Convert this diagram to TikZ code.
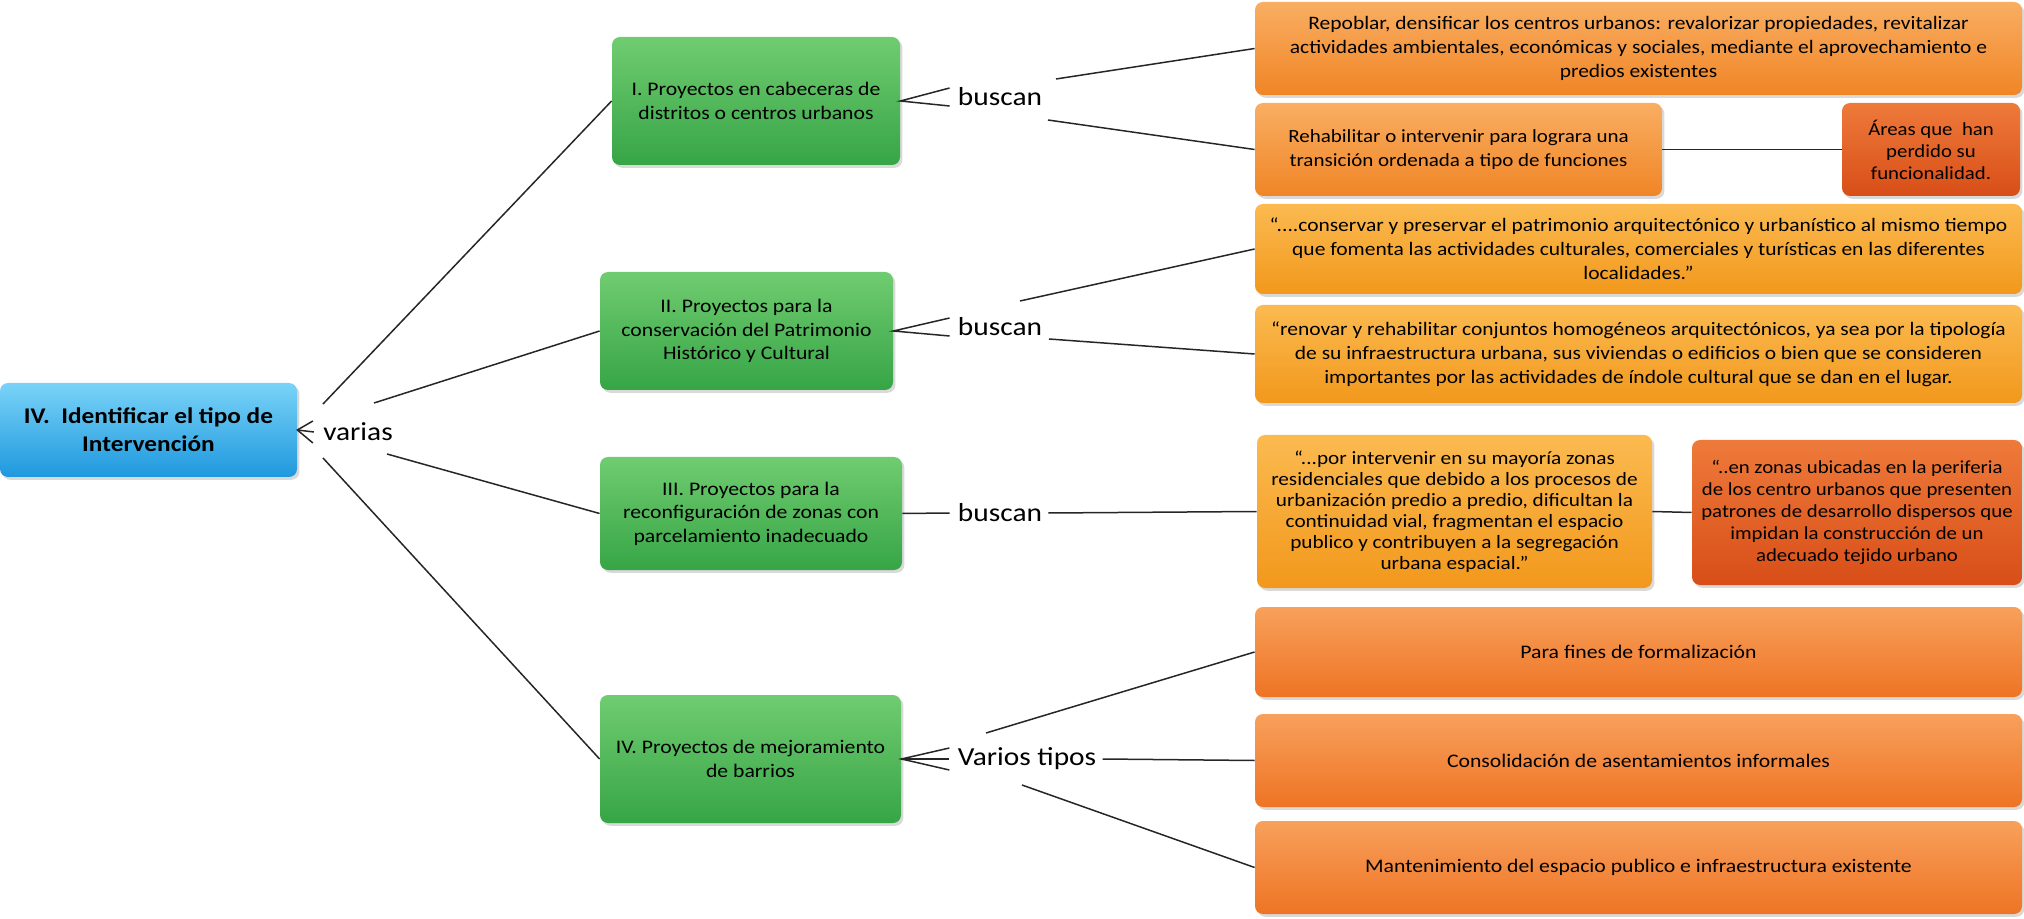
\documentclass[tikz,border=0pt]{standalone}
\usepackage{fontspec}
\setmainfont{Carlito}[FakeStretch=1.13]
\usetikzlibrary{calc,shadows}
\definecolor{bTop}{HTML}{7AD3F7}
\definecolor{bBot}{HTML}{1E98DE}
\definecolor{gTop}{HTML}{70CC70}
\definecolor{gBot}{HTML}{36A546}
\definecolor{oTop}{HTML}{F9AE62}
\definecolor{oBot}{HTML}{F08526}
\definecolor{yTop}{HTML}{FBBA50}
\definecolor{yBot}{HTML}{F2981C}
\definecolor{pTop}{HTML}{F8A05C}
\definecolor{pBot}{HTML}{EE7424}
\definecolor{rTop}{HTML}{EE7A3A}
\definecolor{rBot}{HTML}{D84E18}
\begin{document}
\begin{tikzpicture}[x=0.5pt,y=-0.5pt,
  conn/.style={draw=black!85, line width=0.75pt},
  base/.style={rounded corners=4pt, inner sep=0pt, align=center,
    drop shadow={opacity=0.3, shadow xshift=1.2pt, shadow yshift=-1.4pt}},
  bluebox/.style={base, top color=bTop, bottom color=bBot,
    font=\bfseries\fontsize{11.2}{14}\selectfont},
  greenbox/.style={base, top color=gTop, bottom color=gBot,
    font=\fontsize{9.6}{11.7}\selectfont},
  orabox/.style={base, top color=oTop, bottom color=oBot,
    font=\fontsize{9.5}{12.2}\selectfont},
  yelbox/.style={base, top color=yTop, bottom color=yBot,
    font=\fontsize{9.5}{12}\selectfont},
  pinkbox/.style={base, top color=pTop, bottom color=pBot,
    font=\fontsize{9.6}{11}\selectfont},
  redbox/.style={base, top color=rTop, bottom color=rBot,
    font=\fontsize{9.2}{11}\selectfont},
  lbl/.style={font=\fontsize{13}{15}\selectfont, inner sep=3pt}
]
\useasboundingbox (0,0) rectangle (2024,919);

% main node
\node[bluebox, minimum width=148.5pt, minimum height=47pt] (ib) at (148.5,430)
  {IV.\ \ Identificar el tipo de\\Intervención};
\node[lbl] (va) at (358,432) {varias};

% green nodes
\node[greenbox, minimum width=144pt, minimum height=64pt] (g1) at (756,101)
  {I. Proyectos en cabeceras de\\distritos o centros urbanos};
\node[greenbox, minimum width=146.5pt, minimum height=59pt] (g2) at (746.5,331)
  {II. Proyectos para la\\conservación del Patrimonio\\Histórico y Cultural};
\node[greenbox, minimum width=151pt, minimum height=56.5pt] (g3) at (751,513.5)
  {III. Proyectos para la\\reconfiguración de zonas con\\parcelamiento inadecuado};
\node[greenbox, minimum width=150.5pt, minimum height=64pt] (g4) at (750.5,759)
  {IV. Proyectos de mejoramiento\\de barrios};

% labels
\node[lbl] (b1) at (1000,97) {buscan};
\node[lbl] (b2) at (1000,327) {buscan};
\node[lbl] (b3) at (1000,513) {buscan};
\node[lbl] (vt) at (1027,759) {Varios tipos};

% orange nodes
\node[orabox, minimum width=383.5pt, minimum height=46.5pt] (o1) at (1638.5,48.5)
  {Repoblar, densificar los centros urbanos: revalorizar propiedades, revitalizar\\actividades ambientales, económicas y sociales, mediante el aprovechamiento e\\predios existentes};
\node[orabox, minimum width=203.5pt, minimum height=46.5pt, font=\fontsize{9.3}{12.2}\selectfont] (o2) at (1458.5,149.5)
  {Rehabilitar o intervenir para lograra una\\transición ordenada a tipo de funciones};
\node[redbox, minimum width=89pt, minimum height=46.5pt] (r1) at (1931,149.5)
  {Áreas que\ \ han\\perdido su\\funcionalidad.};
\node[yelbox, minimum width=383.5pt, minimum height=45pt] (o3) at (1638.5,249)
  {“....conservar y preservar el patrimonio arquitectónico y urbanístico al mismo tiempo\\que fomenta las actividades culturales, comerciales y turísticas en las diferentes\\localidades.”};
\node[yelbox, minimum width=383.5pt, minimum height=49pt] (o4) at (1638.5,354)
  {“renovar y rehabilitar conjuntos homogéneos arquitectónicos, ya sea por la tipología\\de su infraestructura urbana, sus viviendas o edificios o bien que se consideren\\importantes por las actividades de índole cultural que se dan en el lugar.};
\node[yelbox, minimum width=197.5pt, minimum height=76.5pt, font=\fontsize{9.4}{10.5}\selectfont] (o5) at (1454.5,511.5)
  {“...por intervenir en su mayoría zonas\\residenciales que debido a los procesos de\\urbanización predio a predio, dificultan la\\continuidad vial, fragmentan el espacio\\publico y contribuyen a la segregación\\urbana espacial.”};
\node[redbox, minimum width=165pt, minimum height=72.5pt] (r2) at (1857,512.5)
  {“..en zonas ubicadas en la periferia\\de los centro urbanos que presenten\\patrones de desarrollo dispersos que\\impidan la construcción de un\\adecuado tejido urbano};
\node[pinkbox, minimum width=383.5pt, minimum height=45pt] (o6) at (1638.5,652)
  {Para fines de formalización};
\node[pinkbox, minimum width=383.5pt, minimum height=46.5pt] (o7) at (1638.5,760.5)
  {Consolidación de asentamientos informales};
\node[pinkbox, minimum width=383.5pt, minimum height=46.5pt] (o8) at (1638.5,867.5)
  {Mantenimiento del espacio publico e infraestructura existente};

% fork main -> varias
\draw[conn] ($(va.west)+(-4,-11)$) -- (ib.east) -- ($(va.west)+(-4,11)$);
\draw[conn] (ib.east) -- ($(va.west)+(-3,0)$);
% varias -> green
\draw[conn] ($(va.center)+(-35,-28)$) -- (g1.west);
\draw[conn] ($(va.center)+(16,-29)$) -- (g2.west);
\draw[conn] ($(va.center)+(29,22)$) -- (g3.west);
\draw[conn] ($(va.center)+(-35,26)$) -- (g4.west);

% green -> labels
\draw[conn] ($(b1.west)+(-2,-9)$) -- (g1.east) -- ($(b1.west)+(-2,9)$);
\draw[conn] ($(b2.west)+(-2,-9)$) -- (g2.east) -- ($(b2.west)+(-2,9)$);
\draw[conn] (g3.east) -- ($(b3.west)+(-2,0)$);
\draw[conn] ($(vt.west)+(-2,-11)$) -- (g4.east) -- ($(vt.west)+(-2,11)$);
\draw[conn] (g4.east) -- ($(vt.west)+(-2,0)$);

% labels -> orange
\draw[conn] ($(b1.center)+(56,-18)$) -- (o1.west);
\draw[conn] ($(b1.center)+(48,23)$) -- (o2.west);
\draw[conn] ($(b2.center)+(20,-26)$) -- (o3.west);
\draw[conn] ($(b2.center)+(49,12)$) -- (o4.west);
\draw[conn] (b3.east) -- (o5.west);
\draw[conn] ($(vt.center)+(-41,-26)$) -- (o6.west);
\draw[conn] (vt.east) -- (o7.west);
\draw[conn] ($(vt.center)+(-5,26)$) -- (o8.west);

% orange -> red
\draw[conn] (o2.east) -- (r1.west);
\draw[conn] (o5.east) -- (r2.west);
\end{tikzpicture}
\end{document}
